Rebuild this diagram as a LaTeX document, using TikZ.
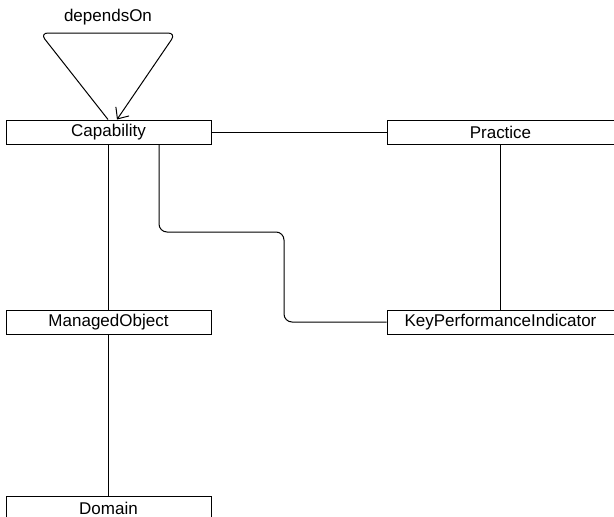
\documentclass[tikz,border=0pt]{standalone}
\usepackage{fontspec}
\setmainfont{Liberation Sans}
\usetikzlibrary{arrows.meta,positioning}

\begin{document}
\begin{tikzpicture}[line width=1pt]

      \tikzstyle{classbox}=[rectangle,draw,inner sep=0pt,
        minimum width=205pt,minimum height=24pt,
        text centered,font=\fontsize{17}{20}\selectfont]

      \useasboundingbox (0,0) rectangle (614pt,-517pt);

      \node(Capability)[classbox] at (108.5pt,-132pt){Capability};
      \node(ManagedObject)[classbox,below =165pt of Capability]{ManagedObject};
      \node(Domain)[classbox,below =161pt of ManagedObject]{Domain};
      \node(Practice)[classbox,minimum width=227pt,
        right =175pt of Capability]{Practice};
      \node(KPI)[classbox,minimum width=227pt,
        below =165pt of Practice]{KeyPerformanceIndicator};

      \node(dependsOn)[font=\fontsize{17}{20}\selectfont]
      at (108pt,-17pt){dependsOn};

      % self loop on Capability
      \draw [rounded corners=8pt,-{Straight Barb[length=9pt,width=16pt]}]
      ([xshift=-0.5pt]Capability.north) -- (40pt,-33pt)
      -- (176pt,-33pt) -- ([xshift=8.5pt]Capability.north);

      \draw (Capability)--(Practice);
      \draw (Capability)--(ManagedObject);
      \draw (ManagedObject)--(Domain);
      \draw (Practice)--(KPI);

      \coordinate (kink) at (284pt,-232pt);
      \draw [rounded corners=8pt]
      ([xshift=50.5pt]Capability.south) |- (kink) |- (KPI.west);

    \end{tikzpicture}
\end{document}
